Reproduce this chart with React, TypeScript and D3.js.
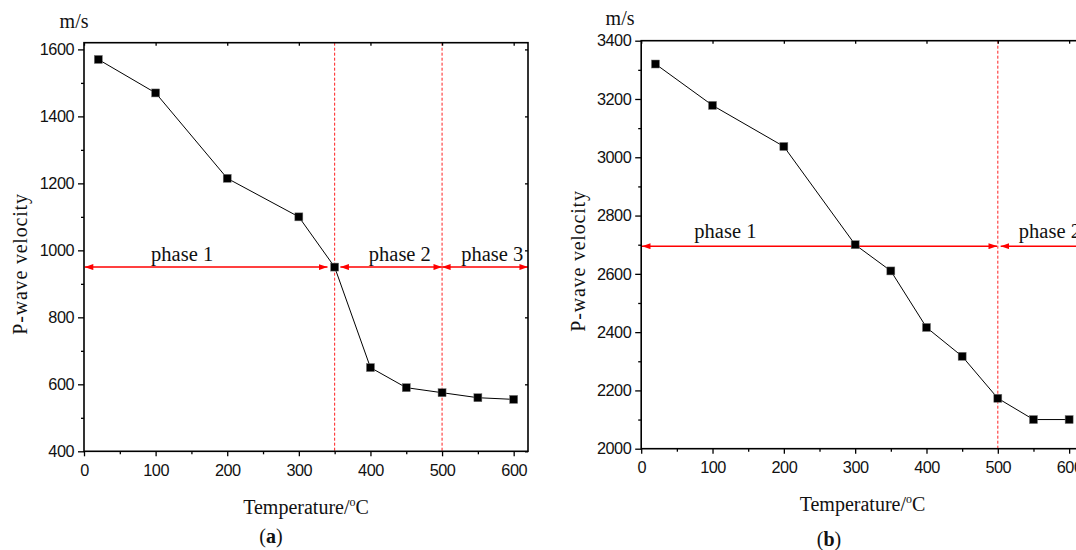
import React, { useEffect, useRef } from "react";
import * as d3 from "d3";

const temps = [20, 100, 200, 300, 350, 400, 450, 500, 550, 600];
const velocityA = [1570, 1470, 1215, 1100, 950, 650, 590, 575, 560, 555];
const velocityB = [3320, 3178, 3037, 2700, 2610, 2416, 2317, 2173, 2100, 2100];

const xTicks = [0, 100, 200, 300, 400, 500, 600];
const xMinor = [50, 150, 250, 350, 450, 550];
const yTicksA = [400, 600, 800, 1000, 1200, 1400, 1600];
const yMinorA = [500, 700, 900, 1100, 1300, 1500];
const yTicksB = [2000, 2200, 2400, 2600, 2800, 3000, 3200, 3400];
const yMinorB = [2100, 2300, 2500, 2700, 2900, 3100, 3300];

const phaseNamesA = ["phase 1", "phase 2", "phase 3"];
const phaseSpansA = [[1, 340], [358, 500], [500, 620]];
const phaseLabelAtA = [137, 441, 570];
const phaseLevelA = 950;
const phaseBoundsA = [350, 500];

const phaseNamesB = ["phase 1", "phase 2"];
const phaseSpansB = [[1, 499], [504, 640]];
const phaseLabelAtB = [118, 573];
const phaseLevelB = 2695;
const phaseBoundsB = [500];

const SERIF = "'Liberation Serif', 'Times New Roman', serif";
const SANS = "'Liberation Sans', Arial, sans-serif";

type Panel = {
    left: number; right: number; top: number; bottom: number;
    xMax: number; yDomain: [number, number];
    yTicks: number[]; yMinor: number[]; values: number[];
    names: string[]; spans: number[][]; labelAt: number[]; level: number; bounds: number[];
    labelLift: number;
    unitX: number; unitY: number;
    yTitleX: number; yTitleY: number;
    xTitleX: number; xTitleY: number;
    tag: string; tagX: number; tagY: number;
};

const panels: Panel[] = [
    {
        left: 84, right: 528, top: 42.7, bottom: 451.3, xMax: 620, yDomain: [400, 1620],
        yTicks: yTicksA, yMinor: yMinorA, values: velocityA,
        names: phaseNamesA, spans: phaseSpansA, labelAt: phaseLabelAtA, level: phaseLevelA, bounds: phaseBoundsA,
        labelLift: 6,
        unitX: 59.6, unitY: 27.7, yTitleX: 20, yTitleY: 264, xTitleX: 306, xTitleY: 514,
        tag: "a", tagX: 271, tagY: 543,
    },
    {
        left: 641.2, right: 1083.4, top: 40.7, bottom: 448.7, xMax: 620, yDomain: [2000, 3400],
        yTicks: yTicksB, yMinor: yMinorB, values: velocityB,
        names: phaseNamesB, spans: phaseSpansB, labelAt: phaseLabelAtB, level: phaseLevelB, bounds: phaseBoundsB,
        labelLift: 8.5,
        unitX: 605.6, unitY: 25, yTitleX: 578, yTitleY: 261, xTitleX: 862.5, xTitleY: 510.7,
        tag: "b", tagX: 829, tagY: 546,
    },
];

function drawPanel(svg: d3.Selection<SVGSVGElement, unknown, null, undefined>, p: Panel) {
    const x = d3.scaleLinear().domain([0, p.xMax]).range([p.left, p.right]);
    const y = d3.scaleLinear().domain(p.yDomain).range([p.bottom, p.top]);
    const g = svg.append("g");

    // phase boundaries
    g.selectAll("line.bound")
        .data(p.bounds)
        .join("line")
        .attr("x1", d => x(d)).attr("x2", d => x(d))
        .attr("y1", p.top).attr("y2", p.bottom)
        .attr("stroke", "#ff2020")
        .attr("stroke-width", 1)
        .attr("stroke-dasharray", "3,2");

    // phase arrows
    g.selectAll("line.arrow")
        .data(p.spans)
        .join("line")
        .attr("x1", d => x(d[0])).attr("x2", d => x(d[1]))
        .attr("y1", y(p.level)).attr("y2", y(p.level))
        .attr("stroke", "#ff0000")
        .attr("stroke-width", 1.5)
        .attr("marker-start", "url(#arrowhead)")
        .attr("marker-end", "url(#arrowhead)");

    g.selectAll("text.phase")
        .data(p.names)
        .join("text")
        .attr("x", (_, i) => x(p.labelAt[i]))
        .attr("y", y(p.level) - p.labelLift)
        .attr("text-anchor", "middle")
        .attr("font-family", SERIF)
        .attr("font-size", 20.5)
        .attr("fill", "#111")
        .text(d => d);

    // axes
    const fmt = d3.format("d");
    const axisStyle = (sel: any) => {
        sel.attr("font-family", SANS).attr("font-size", 16.3).attr("letter-spacing", -0.5);
        sel.select(".domain").remove();
        sel.selectAll("line").attr("stroke", "#000").attr("stroke-width", 1.3);
        sel.selectAll("text").attr("fill", "#111");
    };

    g.append("g")
        .attr("transform", `translate(${p.left},0)`)
        .call(d3.axisLeft(y).tickValues(p.yTicks).tickFormat(fmt).tickSize(6).tickPadding(4))
        .call(axisStyle);
    g.append("g")
        .attr("transform", `translate(${p.left},0)`)
        .call(d3.axisLeft(y).tickValues(p.yMinor).tickFormat(() => "").tickSize(3))
        .call(axisStyle);
    g.append("g")
        .attr("transform", `translate(0,${p.bottom})`)
        .call(d3.axisBottom(x).tickValues(xTicks).tickFormat(fmt).tickSize(5).tickPadding(8))
        .call(axisStyle);
    g.append("g")
        .attr("transform", `translate(0,${p.bottom})`)
        .call(d3.axisBottom(x).tickValues(xMinor).tickFormat(() => "").tickSize(3))
        .call(axisStyle);
    g.append("g")
        .attr("transform", `translate(0,${p.top})`)
        .call(d3.axisTop(x).tickValues(xTicks).tickFormat(() => "").tickSize(-3))
        .call(axisStyle);
    g.append("g")
        .attr("transform", `translate(${p.right},0)`)
        .call(d3.axisRight(y).tickValues(p.yTicks).tickFormat(() => "").tickSize(-3))
        .call(axisStyle);

    g.append("rect")
        .attr("x", p.left).attr("y", p.top)
        .attr("width", p.right - p.left).attr("height", p.bottom - p.top)
        .attr("fill", "none")
        .attr("stroke", "#000")
        .attr("stroke-width", 1.6);

    // data line + square markers
    const line = d3.line<number>().x((_, i) => x(temps[i])).y(d => y(d));
    g.append("path")
        .datum(p.values)
        .attr("d", line)
        .attr("fill", "none")
        .attr("stroke", "#000")
        .attr("stroke-width", 1);

    g.selectAll("rect.mark")
        .data(p.values)
        .join("rect")
        .attr("x", (_, i) => x(temps[i]) - 4)
        .attr("y", d => y(d) - 4)
        .attr("width", 8)
        .attr("height", 8)
        .attr("fill", "#000")
        .attr("stroke", "#777")
        .attr("stroke-width", 0.5);

    // titles
    g.append("text")
        .attr("x", p.unitX).attr("y", p.unitY)
        .attr("font-family", SERIF).attr("font-size", 20).attr("fill", "#111")
        .text("m/s");

    g.append("text")
        .attr("transform", `translate(${p.yTitleX},${p.yTitleY}) rotate(-90)`)
        .attr("text-anchor", "middle")
        .attr("dy", "0.35em")
        .attr("font-family", SERIF).attr("font-size", 20).attr("letter-spacing", 0.8).attr("fill", "#111")
        .text("P-wave velocity");

    const xt = g.append("text")
        .attr("x", p.xTitleX).attr("y", p.xTitleY)
        .attr("text-anchor", "middle")
        .attr("font-family", SERIF).attr("font-size", 20).attr("fill", "#111");
    xt.append("tspan").text("Temperature/");
    xt.append("tspan").attr("font-size", 12).attr("dy", -8).text("o");
    xt.append("tspan").attr("dy", 8).text("C");

    const tg = g.append("text")
        .attr("x", p.tagX).attr("y", p.tagY)
        .attr("text-anchor", "middle")
        .attr("font-family", SERIF).attr("font-size", 20).attr("fill", "#111");
    tg.append("tspan").text("(");
    tg.append("tspan").attr("font-weight", "bold").text(p.tag);
    tg.append("tspan").text(")");
}

export default function App() {
    const svgRef = useRef<SVGSVGElement>(null);

    useEffect(() => {
        const svg = d3.select(svgRef.current!);
        svg.selectAll("*").remove();

        svg.append("defs")
            .append("marker")
            .attr("id", "arrowhead")
            .attr("viewBox", "0 0 10 7")
            .attr("markerWidth", 9)
            .attr("markerHeight", 6)
            .attr("markerUnits", "userSpaceOnUse")
            .attr("refX", 10)
            .attr("refY", 3.5)
            .attr("orient", "auto-start-reverse")
            .append("path")
            .attr("d", "M0,0 L10,3.5 L0,7 Z")
            .attr("fill", "#ff0000");

        panels.forEach(p => drawPanel(svg, p));
    }, []);

    return (
        <svg
            ref={svgRef}
            width={1076}
            height={550}
            style={{ position: "absolute", left: 0, top: 0, background: "#fff" }}
        />
    );
}
